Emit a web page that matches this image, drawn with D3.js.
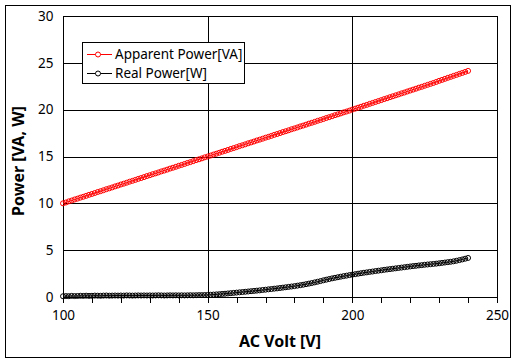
<!DOCTYPE html>
<html>
<head>
<meta charset="utf-8">
<script src="https://cdn.jsdelivr.net/npm/d3@7"></script>
<style>
body { margin: 0; background: #fff; }
svg { display: block; font-family: "Noto Sans", "DejaVu Sans", sans-serif; }
</style>
</head>
<body>
<svg id="chart" width="518" height="363"></svg>
<script>
// data, one point per volt from 100 to 240
var voltStart = 100
var apparentPower = [
  10.00, 10.09, 10.21, 10.30, 10.41, 10.50, 10.61, 10.70, 10.80, 10.91,
  11.00, 11.10, 11.21, 11.30, 11.40, 11.51, 11.60, 11.70, 11.81, 11.90,
  12.01, 12.10, 12.20, 12.31, 12.40, 12.50, 12.61, 12.70, 12.80, 12.91,
  13.00, 13.11, 13.20, 13.30, 13.41, 13.50, 13.60, 13.71, 13.80, 13.90,
  14.01, 14.10, 14.20, 14.31, 14.40, 14.50, 14.61, 14.70, 14.80, 14.91,
  15.00, 15.10, 15.21, 15.30, 15.40, 15.51, 15.60, 15.70, 15.81, 15.90,
  16.00, 16.11, 16.20, 16.30, 16.41, 16.50, 16.60, 16.71, 16.80, 16.90,
  17.01, 17.10, 17.20, 17.31, 17.40, 17.50, 17.61, 17.70, 17.80, 17.91,
  18.00, 18.10, 18.21, 18.30, 18.40, 18.51, 18.60, 18.70, 18.81, 18.90,
  19.00, 19.11, 19.20, 19.30, 19.41, 19.50, 19.60, 19.71, 19.80, 19.90,
  20.01, 20.11, 20.21, 20.31, 20.42, 20.51, 20.62, 20.72, 20.82, 20.92,
  21.02, 21.13, 21.22, 21.33, 21.43, 21.53, 21.63, 21.74, 21.83, 21.94,
  22.04, 22.14, 22.24, 22.35, 22.44, 22.55, 22.65, 22.75, 22.85, 22.96,
  23.08, 23.18, 23.29, 23.40, 23.50, 23.61, 23.71, 23.82, 23.92, 24.03,
  24.14
]
var realPower = [
  0.08, 0.10, 0.09, 0.12, 0.10, 0.11, 0.13, 0.12, 0.14, 0.12,
  0.13, 0.15, 0.14, 0.13, 0.15, 0.16, 0.14, 0.15, 0.16, 0.15,
  0.16, 0.15, 0.17, 0.16, 0.15, 0.16, 0.17, 0.16, 0.17, 0.16,
  0.17, 0.16, 0.17, 0.18, 0.17, 0.16, 0.17, 0.18, 0.17, 0.18,
  0.17, 0.18, 0.17, 0.18, 0.19, 0.18, 0.19, 0.20, 0.20, 0.21,
  0.22, 0.24, 0.26, 0.28, 0.30, 0.33, 0.35, 0.38, 0.41, 0.44,
  0.47, 0.50, 0.53, 0.56, 0.59, 0.62, 0.65, 0.68, 0.71, 0.75,
  0.78, 0.82, 0.85, 0.89, 0.92, 0.96, 1.00, 1.04, 1.08, 1.12,
  1.16, 1.21, 1.26, 1.31, 1.37, 1.43, 1.49, 1.56, 1.63, 1.70,
  1.78, 1.85, 1.92, 1.99, 2.05, 2.11, 2.17, 2.23, 2.28, 2.34,
  2.39, 2.44, 2.49, 2.54, 2.59, 2.63, 2.68, 2.72, 2.77, 2.81,
  2.85, 2.90, 2.94, 2.98, 3.02, 3.06, 3.10, 3.14, 3.18, 3.22,
  3.26, 3.30, 3.33, 3.37, 3.40, 3.44, 3.47, 3.50, 3.53, 3.56,
  3.60, 3.64, 3.68, 3.72, 3.76, 3.81, 3.87, 3.94, 4.01, 4.09,
  4.17
]
var xTicks = [100, 150, 200, 250]
var xMinorTicks = [110, 120, 130, 140, 160, 170, 180, 190, 210, 220, 230, 240]
var yTicks = [0, 5, 10, 15, 20, 25, 30]
var seriesNames = ['Apparent Power[VA]', 'Real Power[W]']
var seriesColors = ['#ff0000', '#000000']

var svg = d3.select('#chart')
var plot = { left: 63, top: 16, right: 497, bottom: 297 }

var x = d3.scaleLinear().domain([100, 250]).range([plot.left, plot.right])
var y = d3.scaleLinear().domain([0, 30]).range([plot.bottom, plot.top])

// outer frame
svg.append('rect')
  .attr('x', 5.5).attr('y', 5.5).attr('width', 505).attr('height', 352)
  .attr('fill', '#fff').attr('stroke', '#000').attr('stroke-width', 1)

// gridlines
var grid = svg.append('g').attr('stroke', '#000').attr('stroke-width', 1).attr('shape-rendering', 'crispEdges')
grid.selectAll('line.h').data(yTicks.slice(1, -1)).join('line').attr('class', 'h')
  .attr('x1', plot.left).attr('x2', plot.right)
  .attr('y1', d => Math.round(y(d)) + 0.5).attr('y2', d => Math.round(y(d)) + 0.5)
grid.selectAll('line.v').data(xTicks.slice(1, -1)).join('line').attr('class', 'v')
  .attr('y1', plot.top).attr('y2', plot.bottom)
  .attr('x1', d => Math.round(x(d)) + 0.5).attr('x2', d => Math.round(x(d)) + 0.5)

// plot border
svg.append('rect')
  .attr('x', plot.left + 0.5).attr('y', plot.top + 0.5)
  .attr('width', plot.right - plot.left).attr('height', plot.bottom - plot.top)
  .attr('fill', 'none').attr('stroke', '#000').attr('shape-rendering', 'crispEdges')

// axes
var xAxis = svg.append('g').attr('transform', 'translate(0,' + (plot.bottom + 0.5) + ')')
  .call(d3.axisBottom(x).tickValues(xTicks).tickSize(5).tickPadding(8))
var xMinor = svg.append('g').attr('transform', 'translate(0,' + (plot.bottom + 0.5) + ')')
  .call(d3.axisBottom(x).tickValues(xMinorTicks).tickSize(5).tickFormat(''))
var yAxis = svg.append('g').attr('transform', 'translate(' + (plot.left + 0.5) + ',0)')
  .call(d3.axisLeft(y).tickValues(yTicks).tickSize(0).tickPadding(10))
;[xAxis, xMinor, yAxis].forEach(function(a) {
  a.select('.domain').remove()
  a.selectAll('line').attr('stroke', '#000').attr('shape-rendering', 'crispEdges')
  a.selectAll('text').attr('fill', '#000').style('font-size', '13.5px')
    .style('font-family', '"Noto Sans", "DejaVu Sans", sans-serif')
})

// axis titles
svg.append('text').attr('x', 280).attr('y', 347).attr('text-anchor', 'middle')
  .style('font-size', '16px').style('font-weight', 'bold').text('AC Volt [V]')
svg.append('text').attr('transform', 'translate(24,161) rotate(-90)').attr('text-anchor', 'middle')
  .style('font-size', '16px').style('font-weight', 'bold').text('Power [VA, W]')

// series
var allSeries = [apparentPower, realPower]
var line = d3.line().x((d, i) => x(voltStart + i)).y(d => y(d))
allSeries.forEach(function(values, k) {
  var g = svg.append('g')
  g.append('path').datum(values).attr('d', line)
    .attr('fill', 'none').attr('stroke', seriesColors[k]).attr('stroke-width', 1)
  g.selectAll('circle').data(values).join('circle')
    .attr('cx', (d, i) => x(voltStart + i)).attr('cy', d => y(d)).attr('r', 2.5)
    .attr('fill', 'none').attr('stroke', seriesColors[k]).attr('stroke-width', 1)
})

// legend
var legend = svg.append('g')
legend.append('rect').attr('x', 82.5).attr('y', 42.5).attr('width', 162).attr('height', 41)
  .attr('fill', '#fff').attr('stroke', '#000').attr('shape-rendering', 'crispEdges')
seriesNames.forEach(function(name, k) {
  var ly = 54 + k * 19
  legend.append('line').attr('x1', 87).attr('x2', 112).attr('y1', ly + 0.5).attr('y2', ly + 0.5)
    .attr('stroke', seriesColors[k])
  legend.append('circle').attr('cx', 98).attr('cy', ly + 0.5).attr('r', 2.5)
    .attr('fill', '#fff').attr('stroke', seriesColors[k])
  legend.append('text').attr('x', 115).attr('y', ly + 5).style('font-size', '13.5px').text(name)
})
</script>
</body>
</html>
